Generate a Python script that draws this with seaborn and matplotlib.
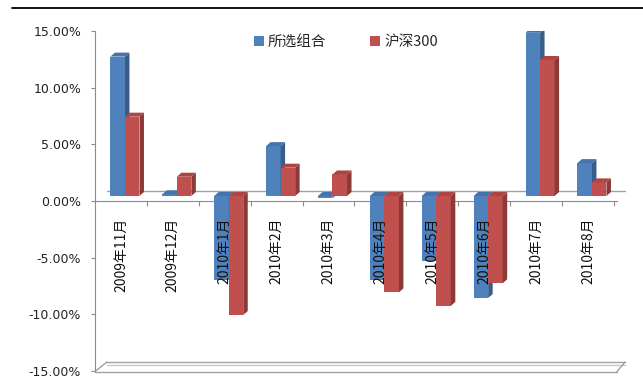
import numpy as np
import pandas as pd
import seaborn as sns
import matplotlib
matplotlib.use("Agg")
import matplotlib.pyplot as plt
import matplotlib.transforms as mtransforms
from matplotlib.patches import Polygon, Patch
from matplotlib.lines import Line2D

# ---- data ----
categories = ['2009年11月', '2009年12月', '2010年1月', '2010年2月', '2010年3月',
              '2010年4月', '2010年5月', '2010年6月', '2010年7月', '2010年8月']
portfolio = [12.3, 0.15, -7.4, 4.4, -0.2, -7.4, -5.7, -9.0, 14.4, 2.9]
hs300 = [7.0, 1.7, -10.5, 2.5, 1.9, -8.5, -9.7, -7.7, 12.0, 1.2]
series_names = ['所选组合', '沪深300']
yticks = [-15, -10, -5, 0, 5, 10, 15]

BLUE, RED = '#4F81BD', '#C0504D'
BLUE_SIDE, RED_SIDE = '#385D8A', '#8C3A38'
BLUE_TOP, RED_TOP = '#4574AD', '#AD4643'
GRAY = '#8C8C8C'

df = pd.DataFrame({
    'month': categories * 2,
    'ret': portfolio + hs300,
    'series': [series_names[0]] * len(categories) + [series_names[1]] * len(categories),
})

sns.set_style('white')
plt.rcParams['font.family'] = ['Noto Sans CJK SC', 'DejaVu Sans']

W, H = 643, 381
fig = plt.figure(figsize=(W / 100, H / 100), dpi=100)
ax = fig.add_axes([95 / W, 10 / H, 522 / W, 340 / H])

sns.barplot(data=df, x='month', y='ret', hue='series', order=categories,
            hue_order=series_names, palette=[BLUE, RED], width=0.56,
            saturation=1, errorbar=None, legend=False, ax=ax)

ax.set_xlim(-0.5, 9.56)
ax.set_ylim(-15, 15)

# 3D-like look: shift bars to mid depth and add side / top faces
off = mtransforms.ScaledTranslation(0.04, 0.05, fig.dpi_scale_trans)
px_x = 522 / (9.56 + 0.5)
px_y = 340 / 30
ddx, ddy = 4.5 / px_x, 4.0 / px_y
face_cols = [(BLUE_SIDE, BLUE_TOP), (RED_SIDE, RED_TOP)]
for ci, cont in enumerate(ax.containers):
    side_c, top_c = face_cols[ci]
    z = 2 + 0.2 * ci
    for bar in cont:
        bar.set_transform(ax.transData + off)
        bar.set_zorder(z)
        bar.set_edgecolor('none')
        x0, w = bar.get_x(), bar.get_width()
        y0, h = bar.get_y(), bar.get_height()
        ylo, yhi = min(y0, y0 + h), max(y0, y0 + h)
        side = Polygon([(x0 + w, ylo), (x0 + w + ddx, ylo + ddy),
                        (x0 + w + ddx, yhi + ddy), (x0 + w, yhi)],
                       closed=True, facecolor=side_c, edgecolor='none',
                       transform=ax.transData + off, zorder=z)
        top = Polygon([(x0, yhi), (x0 + ddx, yhi + ddy),
                       (x0 + w + ddx, yhi + ddy), (x0 + w, yhi)],
                      closed=True, facecolor=top_c, edgecolor='none',
                      transform=ax.transData + off, zorder=z)
        ax.add_patch(side)
        ax.add_patch(top)

# axes styling
for s in ['top', 'right']:
    ax.spines[s].set_visible(False)
ax.spines['left'].set_color(GRAY)
ax.spines['bottom'].set_color(GRAY)
ax.spines['bottom'].set_position(('data', 0))
ax.spines['left'].set_zorder(1)
ax.spines['bottom'].set_zorder(1)

ax.set_yticks(yticks)
ax.set_yticklabels([f'{v:.2f}%' for v in yticks], fontsize=9,
                   family=['DejaVu Sans'], color='#222222')
ax.tick_params(axis='y', length=3, width=0.8, color=GRAY, pad=7, left=True)

ax.set_xticks(range(len(categories)))
ax.set_xticklabels(categories, rotation=90, fontsize=10, color='#111111')
ax.tick_params(axis='x', which='major', length=0, pad=12)
ax.set_xticks(np.arange(0.5, len(categories), 1.0), minor=True)
ax.tick_params(axis='x', which='minor', length=3.6, width=0.8, color=GRAY,
               bottom=True)
ax.xaxis.set_zorder(5)
ax.set_xlabel('')
ax.set_ylabel('')


def fl(xs, ys, **kw):
    ln = Line2D([x / W for x in xs], [1 - y / H for y in ys],
                transform=fig.transFigure, clip_on=False, **kw)
    ax.add_line(ln)


# back wall zero line and floor
fl([107, 625], [191, 191], color='#A0A0A0', lw=1.0, zorder=0.9)
fl([95, 617], [371.5, 371.5], color='#A0A0A0', lw=1.0, zorder=1)
fl([107, 625], [362, 362], color='#A0A0A0', lw=1.0, zorder=1)
fl([107, 625], [365, 365], color='#C8C8C8', lw=1.0, zorder=1)
fl([95, 107], [371.5, 362], color='#A0A0A0', lw=1.0, zorder=1)
fl([617, 625], [371.5, 362], color='#A0A0A0', lw=1.0, zorder=1)

# top border line
fig.add_artist(Line2D([12 / W, 1], [1 - 8 / H, 1 - 8 / H],
                      transform=fig.transFigure, color='black', lw=1.3))

# legend
handles = [Patch(facecolor=BLUE, edgecolor='none'),
           Patch(facecolor=RED, edgecolor='none')]
fig.legend(handles=handles, labels=series_names, loc='center',
           bbox_to_anchor=(346 / W, 1 - 42 / H), ncol=2, frameon=False,
           fontsize=10.5, handlelength=0.65, handleheight=0.65,
           handletextpad=0.3, columnspacing=3.0)

fig.savefig('out.png', dpi=100)
